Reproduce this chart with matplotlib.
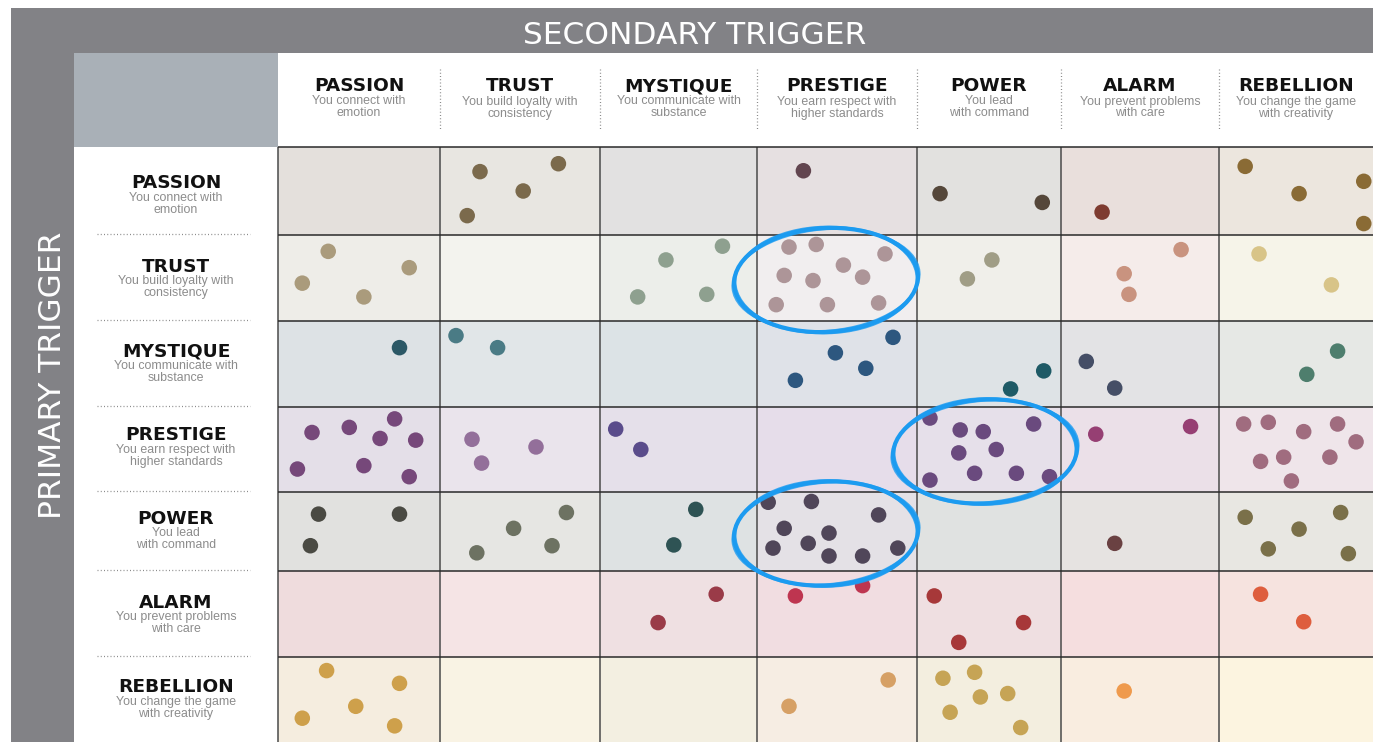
import matplotlib
matplotlib.use("Agg")
import matplotlib.pyplot as plt
from matplotlib.patches import Rectangle, Ellipse

# ---------------- data ----------------
triggers = ["PASSION", "TRUST", "MYSTIQUE", "PRESTIGE", "POWER", "ALARM", "REBELLION"]
subtitles = [
    ("You connect with", "emotion"),
    ("You build loyalty with", "consistency"),
    ("You communicate with", "substance"),
    ("You earn respect with", "higher standards"),
    ("You lead", "with command"),
    ("You prevent problems", "with care"),
    ("You change the game", "with creativity"),
]
title_top = "SECONDARY TRIGGER"
title_left = "PRIMARY TRIGGER"

# background colour of each cell (row = primary, column = secondary)
cell_colors = [
    ["#E4E0DC", "#E8E6E1", "#E2E1E1", "#E6E0E1", "#E2E1DF", "#E9DFDC", "#ECE6DE"],
    ["#EEEDE8", "#F3F3EE", "#ECEEEA", "#F1EEEF", "#F0EFEA", "#F5ECEA", "#F6F4E9"],
    ["#DDE2E5", "#E1E6E8", "#DCE3E6", "#DFE2E8", "#DEE3E6", "#E3E3E5", "#E6E8E5"],
    ["#E4DFE8", "#EAE4EC", "#E5E0EA", "#E6DDEA", "#E6E0EA", "#EBE0E8", "#EFE5EA"],
    ["#E1E1DF", "#E6E6E3", "#DEE2E3", "#E4E1E6", "#E0E2E1", "#E6E3E1", "#E8E7E2"],
    ["#EFDCDD", "#F5E4E5", "#EFE0E2", "#F1DDE1", "#EFDFE1", "#F5DEDF", "#F6E3DF"],
    ["#F5EDDF", "#F9F3E4", "#F3EFE1", "#F6EDE3", "#F3EEDF", "#F9EDE0", "#FCF4E0"],
]

# dot colour of each cell
dot_colors = [
    [None, "#7B6A4C", None, "#62454F", "#55473A", "#7E3B30", "#8A6B35"],
    ["#AA9B7C", None, "#8EA08F", "#AD9598", "#A09D86", "#C9937F", "#D8C488"],
    ["#2B5866", "#4A7B85", None, "#2D577F", "#1E5A66", "#454E66", "#4E7E6D"],
    ["#76487A", "#936F9A", "#5A4C8B", None, "#6A4A7E", "#963F73", "#A06C7F"],
    ["#4A4A43", "#6D7262", "#2E5354", "#504659", None, "#6A4142", "#7A7049"],
    [None, None, "#9A3B48", "#BE3550", "#A73839", None, "#DE5E3E"],
    ["#CEA04B", None, None, "#D6A065", "#C6A455", "#EF9A4D", None],
]

# dots per primary row: (secondary column, x fraction in cell, y fraction in cell)
passion_dots = [(1, .25, .28), (1, .74, .19), (1, .52, .50), (1, .17, .78),
                (3, .29, .27),
                (4, .16, .53), (4, .87, .63),
                (5, .26, .74),
                (6, .17, .22), (6, .52, .53), (6, .94, .39), (6, .94, .87)]
trust_dots = [(0, .31, .19), (0, .81, .38), (0, .15, .56), (0, .53, .72),
              (2, .42, .29), (2, .78, .13), (2, .24, .72), (2, .68, .69),
              (3, .20, .14), (3, .37, .11), (3, .80, .22), (3, .54, .35), (3, .17, .47),
              (3, .35, .53), (3, .66, .49), (3, .12, .81), (3, .44, .81), (3, .76, .79),
              (4, .52, .29), (4, .35, .51),
              (5, .76, .17), (5, .40, .45), (5, .43, .69),
              (6, .26, .22), (6, .73, .58)]
mystique_dots = [(0, .75, .31),
                 (1, .10, .17), (1, .36, .31),
                 (3, .85, .19), (3, .49, .37), (3, .68, .55), (3, .24, .69),
                 (4, .88, .58), (4, .65, .79),
                 (5, .16, .47), (5, .34, .78),
                 (6, .77, .35), (6, .57, .62)]
prestige_dots = [(0, .21, .30), (0, .44, .24), (0, .72, .14), (0, .63, .37), (0, .85, .39),
                 (0, .12, .73), (0, .53, .69), (0, .81, .82),
                 (1, .20, .38), (1, .60, .47), (1, .26, .66),
                 (2, .10, .26), (2, .26, .50),
                 (4, .09, .13), (4, .30, .27), (4, .46, .29), (4, .81, .20), (4, .29, .54),
                 (4, .55, .50), (4, .09, .86), (4, .40, .78), (4, .69, .78), (4, .92, .82),
                 (5, .22, .32), (5, .82, .23),
                 (6, .16, .20), (6, .32, .18), (6, .55, .29), (6, .77, .20), (6, .89, .41),
                 (6, .27, .64), (6, .42, .59), (6, .72, .59), (6, .47, .87)]
power_dots = [(0, .25, .28), (0, .75, .28), (0, .20, .68),
              (1, .79, .26), (1, .46, .46), (1, .70, .68), (1, .23, .77),
              (2, .61, .22), (2, .47, .67),
              (3, .07, .13), (3, .34, .12), (3, .76, .29), (3, .17, .46), (3, .45, .52),
              (3, .32, .65), (3, .10, .71), (3, .45, .81), (3, .66, .81), (3, .88, .71),
              (5, .34, .65),
              (6, .17, .32), (6, .79, .26), (6, .52, .47), (6, .32, .72), (6, .84, .78)]
alarm_dots = [(2, .74, .27), (2, .37, .60),
              (3, .24, .29), (3, .66, .17),
              (4, .12, .29), (4, .74, .60), (4, .29, .83),
              (6, .27, .27), (6, .55, .59)]
rebellion_dots = [(0, .30, .16), (0, .75, .31), (0, .48, .58), (0, .15, .72), (0, .72, .81),
                  (3, .82, .27), (3, .20, .58),
                  (4, .18, .25), (4, .40, .18), (4, .44, .47), (4, .63, .43), (4, .23, .65),
                  (4, .72, .83),
                  (5, .40, .40)]
row_dots = [passion_dots, trust_dots, mystique_dots, prestige_dots,
            power_dots, alarm_dots, rebellion_dots]

# highlighted cells (primary row, secondary column)
highlights = [(1, 3), (3, 4), (4, 3)]

# ---------------- layout (pixels) ----------------
W, H = 1373, 742
col_edges = [278, 440, 600, 757, 917, 1061, 1219, 1373]
row_edges = [147, 235, 321, 407, 492, 571, 657, 742]
row_name_baseline = [188.3, 271.7, 356.7, 440, 524, 607.7, 692.3]
header_name_baseline = 91
row_label_x = 176

grey = "#828286"
corner = "#A9B0B7"
sub_color = "#8C8C8C"
name_font = "DejaVu Sans"
sub_font = "Liberation Sans"

fig = plt.figure(figsize=(W / 100, H / 100), dpi=100)
ax = fig.add_axes([0, 0, 1, 1])
ax.set_xlim(0, W)
ax.set_ylim(H, 0)
ax.axis("off")

# frame bands
ax.add_patch(Rectangle((11, 8), W - 11, H - 8, facecolor=grey, edgecolor="none", zorder=0))
ax.add_patch(Rectangle((74, 52.5), W - 74, H - 52.5, facecolor="white", edgecolor="none", zorder=0.5))
ax.add_patch(Rectangle((74, 52.5), col_edges[0] - 74, row_edges[0] - 52.5,
                       facecolor=corner, edgecolor="none", zorder=0.6))

ax.text(695, 44, title_top, color="white", fontsize=22.5,
        family=name_font, ha="center", va="baseline", zorder=5)
ax.text(61, 375, title_left, color="white", fontsize=22.5, family=name_font,
        rotation=90, ha="center", va="baseline", rotation_mode="anchor", zorder=5)

# cells
for r in range(7):
    for c in range(7):
        x0, x1 = col_edges[c], col_edges[c + 1]
        y0, y1 = row_edges[r], row_edges[r + 1]
        ax.add_patch(Rectangle((x0, y0), x1 - x0, y1 - y0, facecolor=cell_colors[r][c],
                               edgecolor="none", zorder=1))

# grid lines
for x in col_edges[:-1]:
    ax.plot([x, x], [row_edges[0], H], color="#4a4a4a", lw=1.1, zorder=2,
            solid_capstyle="butt")
for y in row_edges[:-1]:
    ax.plot([col_edges[0], W], [y, y], color="#2a2a2a", lw=1.1, zorder=2,
            solid_capstyle="butt")

# column headers
for c, name in enumerate(triggers):
    cx = (col_edges[c] + col_edges[c + 1]) / 2
    ax.text(cx, header_name_baseline, name, fontsize=13.3, fontweight="bold",
            family=name_font, ha="center", va="baseline", color="#111111", zorder=5)
    s1, s2 = subtitles[c]
    ax.text(cx, header_name_baseline + 13.5, s1, fontsize=8.9, family=sub_font,
            ha="center", va="baseline", color=sub_color, zorder=5)
    ax.text(cx, header_name_baseline + 25.5, s2, fontsize=8.9, family=sub_font,
            ha="center", va="baseline", color=sub_color, zorder=5)
for x in col_edges[1:-1]:
    ax.plot([x, x], [69, 130], color="#8a8a8a", lw=0.9, ls=(0, (0.8, 1.8)), zorder=3)

# row labels
for r, name in enumerate(triggers):
    b = row_name_baseline[r]
    ax.text(row_label_x, b, name, fontsize=13.3, fontweight="bold", family=name_font,
            ha="center", va="baseline", color="#111111", zorder=5)
    s1, s2 = subtitles[r]
    ax.text(row_label_x, b + 12.5, s1, fontsize=8.9, family=sub_font, ha="center",
            va="baseline", color=sub_color, zorder=5)
    ax.text(row_label_x, b + 24.5, s2, fontsize=8.9, family=sub_font, ha="center",
            va="baseline", color=sub_color, zorder=5)
for y in row_edges[1:-1]:
    ax.plot([97, 250], [y - 1, y - 1], color="#8a8a8a", lw=0.9, ls=(0, (0.8, 1.8)), zorder=3)

# dots
for r, dots in enumerate(row_dots):
    xs, ys, cs = [], [], []
    for c, fx, fy in dots:
        x0, x1 = col_edges[c], col_edges[c + 1]
        y0, y1 = row_edges[r], row_edges[r + 1]
        xs.append(x0 + fx * (x1 - x0))
        ys.append(y0 + fy * (y1 - y0))
        cs.append(dot_colors[r][c])
    ax.scatter(xs, ys, s=125, c=cs, edgecolors="none", zorder=4)

# hand-drawn highlight ellipses
blue = "#1C9BF0"
for r, c in highlights:
    cx = (col_edges[c] + col_edges[c + 1]) / 2 - (4 if c == 4 else 11)
    cy = (row_edges[r] + row_edges[r + 1]) / 2 + 2
    for dw, dh, ang, lw, al in [(0, 0, -3, 3.0, 1.0), (4, -3, -5, 1.2, 0.8),
                                (-3, 3, -1, 1.2, 0.8), (2, 2, -4, 0.7, 0.6)]:
        ax.add_patch(Ellipse((cx, cy), 184 + dw, 104 + dh, angle=ang, fill=False,
                             edgecolor=blue, lw=lw, alpha=al, zorder=6))

fig.savefig("out.png", dpi=100)
